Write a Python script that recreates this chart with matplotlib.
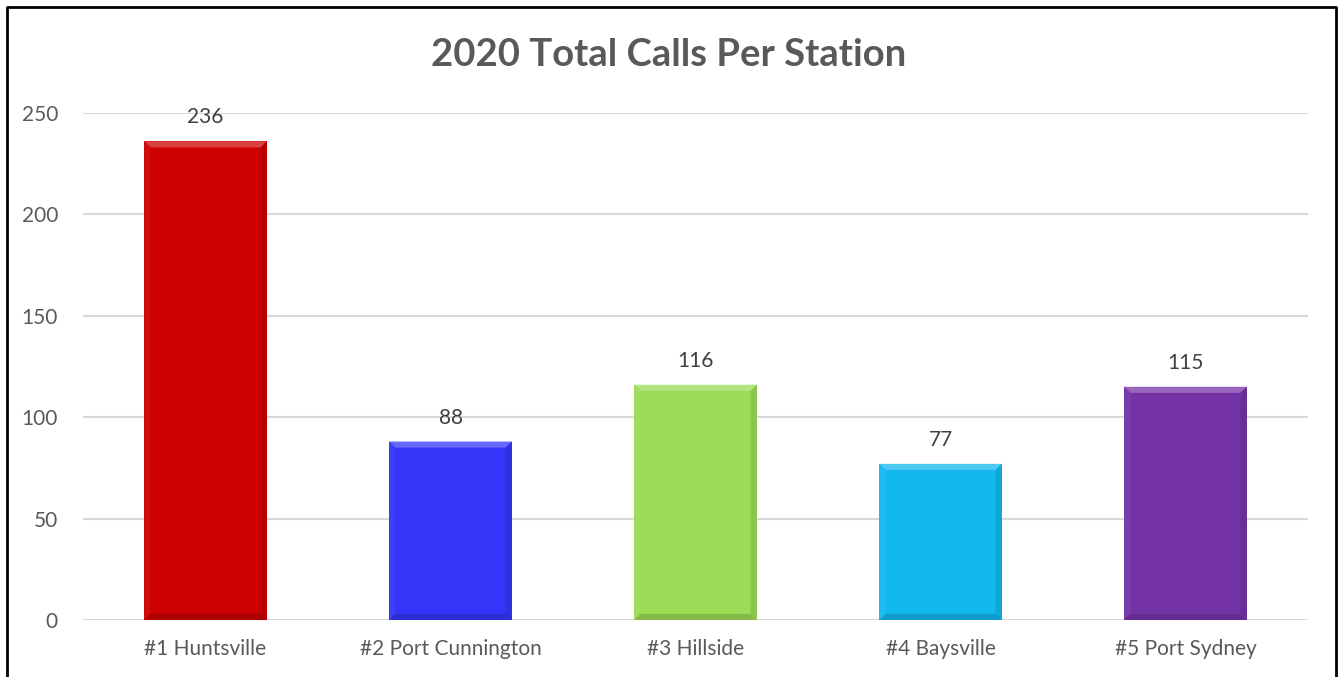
import matplotlib.pyplot as plt
from matplotlib.patches import Polygon
from matplotlib.lines import Line2D
import matplotlib.colors as mcolors
import numpy as np

plt.rcParams['font.family'] = ['Lato', 'DejaVu Sans']

# Data
stations = ['#1 Huntsville', '#2 Port Cunnington', '#3 Hillside', '#4 Baysville', '#5 Port Sydney']
calls = [236, 88, 116, 77, 115]
bar_colors = ['#CC0000', '#3535FA', '#9BDB55', '#12B8EE', '#7433A6']


def shade(color, f):
    # f > 0 lightens towards white, f < 0 darkens towards black
    c = np.array(mcolors.to_rgb(color))
    if f >= 0:
        c = c + (1 - c) * f
    else:
        c = c * (1 + f)
    return tuple(c)


def add_bevel(ax, bar, color, bx, by):
    x0, y0 = bar.get_x(), bar.get_y()
    x1, y1 = x0 + bar.get_width(), y0 + bar.get_height()
    faces = [
        ([(x0, y1), (x1, y1), (x1 - bx, y1 - by), (x0 + bx, y1 - by)], shade(color, 0.25)),
        ([(x0, y0), (x0, y1), (x0 + bx, y1 - by), (x0 + bx, y0 + by)], shade(color, 0.05)),
        ([(x1, y0), (x1, y1), (x1 - bx, y1 - by), (x1 - bx, y0 + by)], shade(color, -0.1)),
        ([(x0, y0), (x1, y0), (x1 - bx, y0 + by), (x0 + bx, y0 + by)], shade(color, -0.15)),
    ]
    for pts, c in faces:
        ax.add_patch(Polygon(pts, closed=True, facecolor=c, edgecolor='none', zorder=3))


fig = plt.figure(figsize=(13.38, 6.77), dpi=100)
ax = fig.add_axes([83 / 1338, 1 - 620 / 677, 1225 / 1338, (620 - 113) / 677])

x = np.arange(len(stations))
bars = ax.bar(x, calls, width=0.5, color=bar_colors, zorder=2)
for b, c in zip(bars, bar_colors):
    add_bevel(ax, b, c, 0.025, 3.0)

for xi, v in zip(x, calls):
    ax.annotate(str(v), (xi, v), xytext=(0, 14), textcoords='offset pixels',
                ha='center', va='bottom', fontsize=15, color='#404040')

ax.set_xlim(-0.5, 4.5)
ax.set_ylim(0, 250)
ax.set_yticks(range(0, 251, 50))
ax.set_xticks(x)
ax.set_xticklabels(stations)
ax.tick_params(axis='both', length=0, labelsize=15, colors='#595959')
ax.tick_params(axis='y', pad=18)
ax.tick_params(axis='x', pad=14)
ax.grid(axis='y', color='#D9D9D9', linewidth=1.5, zorder=0)
ax.set_axisbelow(True)
for s in ax.spines.values():
    s.set_visible(False)

fig.text(0.5, 1 - 55 / 677, '2020 Total Calls Per Station', ha='center', va='center',
         fontsize=27.5, fontweight='bold', color='#595959')

# outer border (bottom edge is cut off in the original)
xl, xr, yt = 7 / 1338, 1336 / 1338, 1 - 7 / 677
fig.add_artist(Line2D([xl, xl, xr, xr], [0, yt, yt, 0], transform=fig.transFigure,
                      color='black', linewidth=2))

fig.savefig('out.png', dpi=100)
